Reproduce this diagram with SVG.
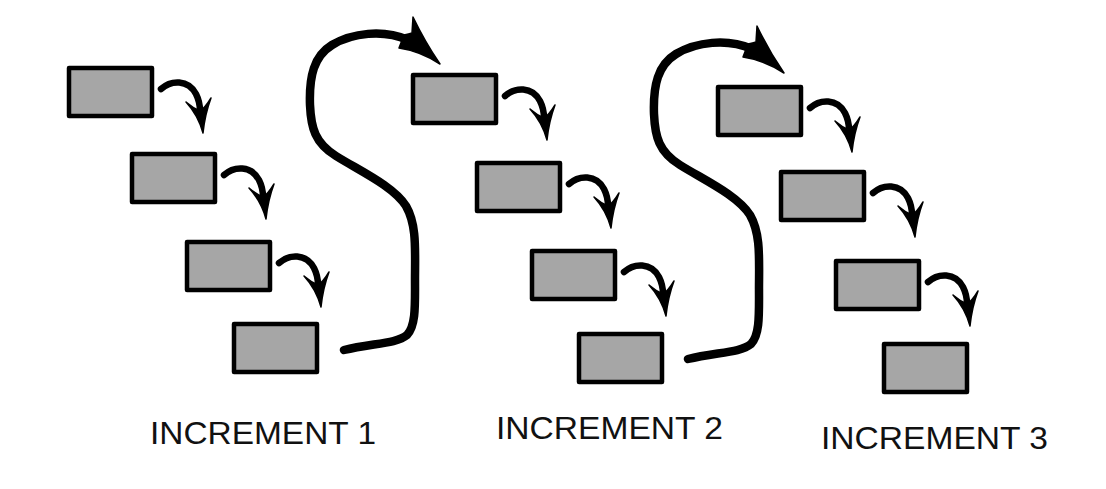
<svg xmlns="http://www.w3.org/2000/svg" xmlns:xlink="http://www.w3.org/1999/xlink" width="1106" height="489" viewBox="0 0 1106 489">
<style>
.box{fill:#a6a6a6;stroke:#000;stroke-width:4.5;stroke-linejoin:round}
.stem{fill:none;stroke:#000;stroke-width:6.5;stroke-linecap:round}
.big{fill:none;stroke:#000;stroke-width:8.5;stroke-linecap:round}
.head{fill:#000;stroke:#000;stroke-width:1.5;stroke-linejoin:round}
.lbl{font-family:"Liberation Sans",Arial,sans-serif;font-size:31px;fill:#111}
</style>
<defs>
<g id="sa">
<path class="stem" d="M94,23 C104,14 121,13 129,28 C132,34 133,40 133,45"/>
<path class="head" d="M119,36 Q131,49 136,67 Q138,48 144,32 Q138,42 133,45 Q126,42 119,36 Z"/>
</g>
<g id="bs">
<path class="big" d="M344,350 C372,343 396,344 407,335 C416,326 415,305 415,280 C415,250 417,225 406,206 C393,186 360,171 336,156 C315,143 311,128 310,105 C309,76 314,56 332,45 C352,33 383,29 408,40"/>
<path class="head" d="M413,17 Q425,42 440,64 Q420,51 399,48 L404,35 Q409,34 412,33 Z"/>
</g>
</defs>
<rect width="1106" height="489" fill="#fff"/>
<g id="inc1">
<g id="n1a"><rect class="box" x="69" y="68" width="83" height="48"/></g>
<g id="n1b"><rect class="box" x="132" y="154" width="83" height="48"/></g>
<g id="n1c"><rect class="box" x="187" y="242" width="83" height="48"/></g>
<g id="n1d"><rect class="box" x="234" y="324" width="83" height="48"/></g>
</g>
<g id="inc2">
<g id="n2a"><rect class="box" x="413" y="75" width="83" height="48"/></g>
<g id="n2b"><rect class="box" x="477" y="163" width="83" height="48"/></g>
<g id="n2c"><rect class="box" x="532" y="251" width="83" height="48"/></g>
<g id="n2d"><rect class="box" x="579" y="334" width="83" height="48"/></g>
</g>
<g id="inc3">
<g id="n3a"><rect class="box" x="718" y="87" width="83" height="48"/></g>
<g id="n3b"><rect class="box" x="781" y="172" width="83" height="48"/></g>
<g id="n3c"><rect class="box" x="836" y="261" width="83" height="48"/></g>
<g id="n3d"><rect class="box" x="884" y="344" width="83" height="48"/></g>
</g>
<g id="connectors">
<use xlink:href="#sa" transform="translate(67,66)"/>
<use xlink:href="#sa" transform="translate(130,152)"/>
<use xlink:href="#sa" transform="translate(185,240)"/>
<use xlink:href="#sa" transform="translate(411,73)"/>
<use xlink:href="#sa" transform="translate(475,161)"/>
<use xlink:href="#sa" transform="translate(530,249)"/>
<use xlink:href="#sa" transform="translate(716,85)"/>
<use xlink:href="#sa" transform="translate(779,170)"/>
<use xlink:href="#sa" transform="translate(834,259)"/>
<use xlink:href="#bs"/>
<use xlink:href="#bs" transform="translate(344,9)"/>
</g>
<g id="labels">
<text class="lbl" x="150" y="444" textLength="226" lengthAdjust="spacingAndGlyphs">INCREMENT 1</text>
<text class="lbl" x="496" y="439" textLength="227" lengthAdjust="spacingAndGlyphs">INCREMENT 2</text>
<text class="lbl" x="821" y="449" textLength="227" lengthAdjust="spacingAndGlyphs">INCREMENT 3</text>
</g>
</svg>
